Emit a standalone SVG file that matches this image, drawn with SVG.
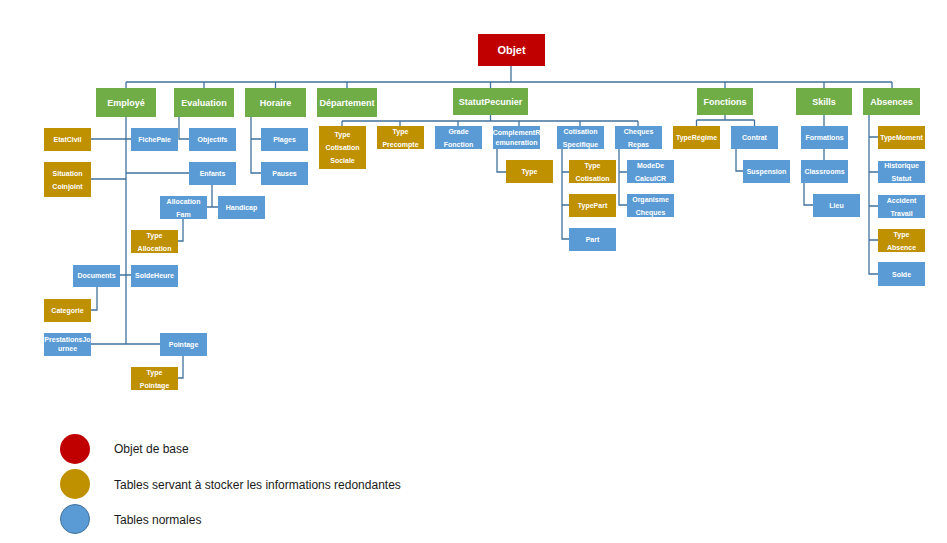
<svg xmlns="http://www.w3.org/2000/svg" width="947" height="543" viewBox="0 0 947 543">
<style>
.g{fill:#70AD47}.o{fill:#BF9000}.b{fill:#5B9BD5}.r{fill:#C00000}
text{font-family:"Liberation Sans",Arial,sans-serif;font-weight:bold;fill:#fff;text-anchor:middle;dominant-baseline:central}
.t1{font-size:9px}.t0{font-size:11px}.t2{font-size:7px}
.c{fill:none;stroke:#41719C;stroke-width:1.3}
.lg{font-weight:normal;fill:#1a1a1a;font-size:12px;text-anchor:start}
</style>
<rect width="947" height="543" fill="#fff"/>
<g id="connectors" class="c">
<path d="M511,66V82M126,82H892M126,82V88M204,82V88M275.5,82V88M347,82V88M490.5,82V88M725,82V88M824,82V88M892,82V88"/>
<path d="M126,117V344M91,139H131M91,179H126M126,173H189M212,185V207M207,207H218M183,219V241H178M120,275H131M97,287V310H91M91,344H160M183,356V378H178"/>
<path d="M179,117V139H189M251,117V173H261M251,139H261"/>
<path d="M490.5,115V121M342,121H638M342,121V126M400,121V126M458,121V126M519,121V126M580,121V126M638,121V126"/>
<path d="M497,149V172H506M562,149V239H569M562,172H569M562,205H569M619,149V205H627M619,172H627"/>
<path d="M725,115V120M696.5,120H754.5M696.5,120V126M754.5,120V126M736,149V171H743"/>
<path d="M824,115V126M824,149V160M804,183V205H813"/>
<path d="M869,115V274H878M869,137H878M869,172H878M869,206H878M869,240H878"/>
</g>
<g id="objet"><rect class="r" x="478" y="34" width="67" height="32"/><text class="t0" x="511.5" y="50">Objet</text></g>
<g id="employe"><rect class="g" x="96" y="88" width="60" height="29"/><text class="t1" x="126" y="102.5">Employé</text></g>
<g id="evaluation"><rect class="g" x="174" y="88" width="60" height="29"/><text class="t1" x="204" y="102.5">Evaluation</text></g>
<g id="horaire"><rect class="g" x="245" y="88" width="61" height="29"/><text class="t1" x="275.5" y="102.5">Horaire</text></g>
<g id="departement"><rect class="g" x="317" y="88" width="60" height="29"/><text class="t1" x="347" y="102.5">Département</text></g>
<g id="statutpecunier"><rect class="g" x="453" y="88" width="75" height="27"/><text class="t1" x="490.5" y="101.5">StatutPecunier</text></g>
<g id="fonctions"><rect class="g" x="697" y="88" width="56" height="27"/><text class="t1" x="725" y="101.5">Fonctions</text></g>
<g id="skills"><rect class="g" x="796" y="88" width="56" height="27"/><text class="t1" x="824" y="101.5">Skills</text></g>
<g id="absences"><rect class="g" x="863" y="88" width="57" height="27"/><text class="t1" x="891.5" y="101.5">Absences</text></g>

<g id="etatcivil"><rect class="o" x="44" y="128" width="47" height="23"/><text class="t2" x="67.5" y="139.5">EtatCivil</text></g>
<g id="fichepaie"><rect class="b" x="131" y="128" width="47" height="23"/><text class="t2" x="154.5" y="139.5">FichePaie</text></g>
<g id="situation"><rect class="o" x="44" y="162" width="47" height="35"/><text class="t2" x="67.5" y="173">Situation</text><text class="t2" x="67.5" y="186">Coinjoint</text></g>
<g id="objectifs"><rect class="b" x="189" y="128" width="47" height="23"/><text class="t2" x="212.5" y="139.5">Objectifs</text></g>
<g id="enfants"><rect class="b" x="189" y="162" width="47" height="23"/><text class="t2" x="212.5" y="173.5">Enfants</text></g>
<g id="allocationfam"><rect class="b" x="160" y="196" width="47" height="23"/><text class="t2" x="183.5" y="201">Allocation</text><text class="t2" x="183.5" y="214">Fam</text></g>
<g id="handicap"><rect class="b" x="218" y="196" width="47" height="23"/><text class="t2" x="241.5" y="207.5">Handicap</text></g>
<g id="typeallocation"><rect class="o" x="131" y="230" width="47" height="23"/><text class="t2" x="154.5" y="235">Type</text><text class="t2" x="154.5" y="248">Allocation</text></g>
<g id="documents"><rect class="b" x="73" y="265" width="47" height="22"/><text class="t2" x="96.5" y="275.5">Documents</text></g>
<g id="soldeheure"><rect class="b" x="131" y="265" width="47" height="22"/><text class="t2" x="154.5" y="275.5">SoldeHeure</text></g>
<g id="categorie"><rect class="o" x="44" y="299" width="47" height="23"/><text class="t2" x="67.5" y="310">Categorie</text></g>
<g id="prestations"><rect class="b" x="44" y="333" width="47" height="23"/><text class="t2" x="67.5" y="339.5">PrestationsJo</text><text class="t2" x="67.5" y="348.5">urnee</text></g>
<g id="pointage"><rect class="b" x="160" y="333" width="47" height="23"/><text class="t2" x="183.5" y="344">Pointage</text></g>
<g id="typepointage"><rect class="o" x="131" y="367" width="47" height="23"/><text class="t2" x="154.5" y="372">Type</text><text class="t2" x="154.5" y="385">Pointage</text></g>
<g id="plages"><rect class="b" x="261" y="128" width="47" height="23"/><text class="t2" x="284.5" y="139.5">Plages</text></g>
<g id="pauses"><rect class="b" x="261" y="162" width="47" height="23"/><text class="t2" x="284.5" y="173.5">Pauses</text></g>

<g id="typecotisationsociale"><rect class="o" x="319" y="126" width="47" height="43"/><text class="t2" x="342.5" y="134.5">Type</text><text class="t2" x="342.5" y="147.5">Cotisation</text><text class="t2" x="342.5" y="160.5">Sociale</text></g>
<g id="typeprecompte"><rect class="o" x="377" y="126" width="47" height="23"/><text class="t2" x="400.5" y="131">Type</text><text class="t2" x="400.5" y="144">Precompte</text></g>
<g id="gradefonction"><rect class="b" x="435" y="126" width="47" height="23"/><text class="t2" x="458.5" y="131">Grade</text><text class="t2" x="458.5" y="144">Fonction</text></g>
<g id="complementremuneration"><rect class="b" x="493" y="126" width="47" height="23"/><text class="t2" x="516.5" y="132.5">ComplementR</text><text class="t2" x="516.5" y="142.5">emuneration</text></g>
<g id="cotisationspecifique"><rect class="b" x="557" y="126" width="47" height="23"/><text class="t2" x="580.5" y="131">Cotisation</text><text class="t2" x="580.5" y="144">Specifique</text></g>
<g id="chequesrepas"><rect class="b" x="615" y="126" width="47" height="23"/><text class="t2" x="638.5" y="131">Cheques</text><text class="t2" x="638.5" y="144">Repas</text></g>
<g id="type"><rect class="o" x="506" y="160" width="47" height="23"/><text class="t2" x="529.5" y="171.5">Type</text></g>
<g id="typecotisation"><rect class="o" x="569" y="160" width="47" height="23"/><text class="t2" x="592.5" y="165">Type</text><text class="t2" x="592.5" y="178">Cotisation</text></g>
<g id="typepart"><rect class="o" x="569" y="194" width="47" height="23"/><text class="t2" x="592.5" y="205.5">TypePart</text></g>
<g id="part"><rect class="b" x="569" y="228" width="47" height="23"/><text class="t2" x="592.5" y="239.5">Part</text></g>
<g id="modedecalculcr"><rect class="b" x="627" y="160" width="47" height="23"/><text class="t2" x="650.5" y="165">ModeDe</text><text class="t2" x="650.5" y="178">CalculCR</text></g>
<g id="organismecheques"><rect class="b" x="627" y="194" width="47" height="23"/><text class="t2" x="650.5" y="199">Organisme</text><text class="t2" x="650.5" y="212">Cheques</text></g>

<g id="typeregime"><rect class="o" x="673" y="126" width="47" height="23"/><text class="t2" x="696.5" y="137.5">TypeRégime</text></g>
<g id="contrat"><rect class="b" x="731" y="126" width="47" height="23"/><text class="t2" x="754.5" y="137.5">Contrat</text></g>
<g id="suspension"><rect class="b" x="743" y="160" width="47" height="23"/><text class="t2" x="766.5" y="171.5">Suspension</text></g>
<g id="formations"><rect class="b" x="801" y="126" width="47" height="23"/><text class="t2" x="824.5" y="137.5">Formations</text></g>
<g id="classrooms"><rect class="b" x="801" y="160" width="47" height="23"/><text class="t2" x="824.5" y="171.5">Classrooms</text></g>
<g id="lieu"><rect class="b" x="813" y="194" width="47" height="23"/><text class="t2" x="836.5" y="205.5">Lieu</text></g>
<g id="typemoment"><rect class="o" x="878" y="126" width="47" height="23"/><text class="t2" x="901.5" y="137.5">TypeMoment</text></g>
<g id="historiquestatut"><rect class="b" x="878" y="161" width="47" height="22"/><text class="t2" x="901.5" y="165.5">Historique</text><text class="t2" x="901.5" y="178.5">Statut</text></g>
<g id="accidenttravail"><rect class="b" x="878" y="195" width="47" height="23"/><text class="t2" x="901.5" y="200">Accident</text><text class="t2" x="901.5" y="213">Travail</text></g>
<g id="typeabsence"><rect class="o" x="878" y="229" width="47" height="23"/><text class="t2" x="901.5" y="234">Type</text><text class="t2" x="901.5" y="247">Absence</text></g>
<g id="solde"><rect class="b" x="878" y="262" width="47" height="24"/><text class="t2" x="901.5" y="274">Solde</text></g>

<g id="legend">
<circle cx="75" cy="449" r="15" class="r"/>
<circle cx="75" cy="484" r="15" class="o"/>
<circle cx="75" cy="519" r="14.5" class="b" stroke="#41719C" stroke-width="1"/>
<text class="lg" x="114" y="449">Objet de base</text>
<text class="lg" x="114" y="485">Tables servant à stocker les informations redondantes</text>
<text class="lg" x="114" y="520">Tables normales</text>
</g>
</svg>
